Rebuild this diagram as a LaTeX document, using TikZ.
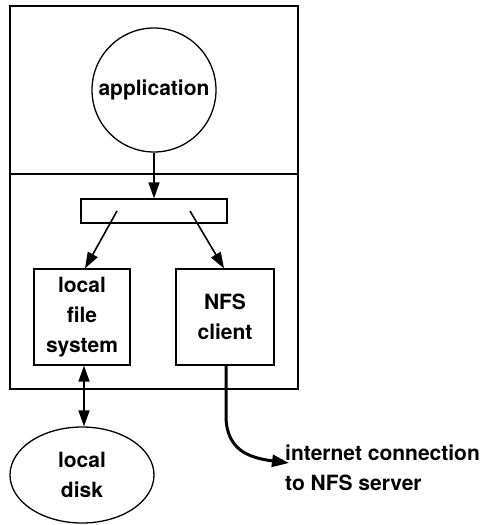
\documentclass[tikz,border=0pt]{standalone}
\usepackage{fontspec}
\setmainfont{TeX Gyre Heros}
\usetikzlibrary{shapes.geometric,arrows.meta}
\tikzset{
  lbl/.style={font=\fontsize{21}{30}\selectfont\bfseries, align=center, inner sep=0pt},
  box/.style={draw, line width=1.3pt},
  tipa/.tip={Triangle[length=16pt,width=11pt]},
  arr/.style={line width=1.6pt, -tipa},
}
\begin{document}
\begin{tikzpicture}[x=1pt,y=-1pt]
\useasboundingbox (0,0) rectangle (483,525);
\draw[line width=1.3pt] (10,6) rectangle (298,389);
\draw[line width=1.3pt] (10,174) -- (298,174);
\node[box, lbl, circle, minimum size=124pt] (app) at (154,90) {application};
\node[box, rectangle, minimum width=146pt, minimum height=24pt, inner sep=0pt] (sw) at (154,211) {};
\node[box, lbl, rectangle, minimum width=96pt, minimum height=96pt] (lfs) at (82,317) {local\\file\\system};
\node[box, lbl, rectangle, minimum width=98pt, minimum height=96pt] (nfs) at (225,317) {NFS\\client};
\node[box, lbl, ellipse, minimum width=144pt, minimum height=96pt] (disk) at (82,475) {local\\disk};
\node[lbl, align=left, anchor=west] (inet) at (285,468) {internet connection\\to NFS server};
\coordinate (tip) at (289,463);
\draw[arr] (app.south) -- (sw.north);
\draw[arr] ([xshift=-37pt]sw.center) -- ([xshift=3pt]lfs.north);
\draw[arr] ([xshift=36pt]sw.center) -- ([xshift=-1pt]nfs.north);
\draw[line width=1.6pt, tipa-tipa] ([xshift=2pt]lfs.south) -- ([xshift=2pt]disk.north);
\draw[line width=3pt, -{Triangle[length=17pt,width=12pt]}] ([xshift=1pt]nfs.south) -- ++(0,50) .. controls +(0,35) and (250,458) .. (tip);
\end{tikzpicture}
\end{document}
